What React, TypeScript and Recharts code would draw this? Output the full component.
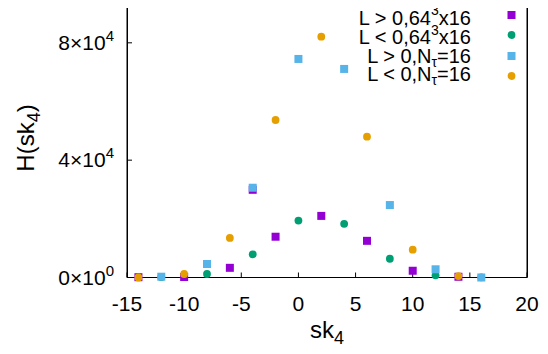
import React from "react";
import { ScatterChart, Scatter, XAxis, YAxis, ReferenceLine } from "recharts";

// values (x = sk4, y = H(sk4))
const purpleX = [-14, -10, -6, -4, -2, 2, 6, 10, 14];
const purpleY = [100, 170, 3300, 29900, 13900, 21000, 12500, 2300, 250];
const greenX = [-12, -8, -4, 0, 4, 8, 12, 16];
const greenY = [150, 1200, 7900, 19400, 18300, 6400, 750, 50];
const blueX = [-12, -8, -4, 0, 4, 8, 12, 16];
const blueY = [270, 4600, 30600, 74500, 71100, 24700, 2800, 0];
const orangeX = [-14, -10, -6, -2, 2, 6, 10, 14];
const orangeY = [0, 1200, 13500, 53700, 82100, 48000, 9500, 500];

const xTicks = [-15, -10, -5, 0, 5, 10, 15, 20];
const yTicks = [0, 40000, 80000];
const X_MIN = -15;
const X_MAX = 20;
const Y_MAX = 94600;

// plot frame in page pixels (matches the chart margins below)
const PLOT_LEFT = 127;
const PLOT_RIGHT = 527;
const PLOT_BOTTOM = 277.5;

const FONT = "'Liberation Sans', Arial, Helvetica, sans-serif";
const COLORS = { purple: "#9400d3", green: "#009e73", blue: "#56b4e9", orange: "#e69f00" };

const toPoints = (xs: number[], ys: number[]) => xs.map((x, i) => ({ x, y: ys[i] }));

const Square = (color: string) => (props: any) => (
  <rect x={props.cx - 4} y={props.cy - 4} width={8} height={8} fill={color} />
);
const Circle = (color: string) => (props: any) => (
  <circle cx={props.cx} cy={props.cy} r={3.9} fill={color} />
);

const XTick = (props: any) => (
  <text x={props.x} y={props.y} textAnchor="middle" fontFamily={FONT} fontSize={21} fill="#000">
    {props.payload.value}
  </text>
);

const YTick = (props: any) => {
  const v = props.payload.value;
  const e = v === 0 ? 0 : Math.floor(Math.log10(v));
  const m = Math.round(v / Math.pow(10, e));
  return (
    <text x={props.x} y={props.y + 7} textAnchor="end" fontFamily={FONT} fontSize={21} fill="#000">
      {m}×10
      <tspan dy={-9} fontSize={15}>{e}</tspan>
    </text>
  );
};

const Empty = () => <g />;

const legendRows = [
  { base: "L > 0,64", sup: "3", rest: "x16", sub: "", color: COLORS.purple, square: true, ty: 24.5, my: 15 },
  { base: "L < 0,64", sup: "3", rest: "x16", sub: "", color: COLORS.green, square: false, ty: 44, my: 35 },
  { base: "L > 0,N", sup: "", rest: "=16", sub: "τ", color: COLORS.blue, square: true, ty: 62.5, my: 56 },
  { base: "L < 0,N", sup: "", rest: "=16", sub: "τ", color: COLORS.orange, square: false, ty: 81, my: 76 },
];

const topTickX = (v: number) => PLOT_LEFT + ((v - X_MIN) / (X_MAX - X_MIN)) * (PLOT_RIGHT - PLOT_LEFT);

export default function App() {
  return (
    <div style={{ position: "relative", width: 548, height: 354, margin: -8 }}>
      <div style={{ position: "absolute", left: 0, top: 0 }}>
        <ScatterChart width={548} height={354} margin={{ top: 0, right: 21, bottom: 16.5, left: 0 }}>
          <XAxis
            xAxisId={0}
            type="number"
            dataKey="x"
            domain={[X_MIN, X_MAX]}
            ticks={xTicks}
            height={60}
            tickSize={-5}
            tickMargin={38}
            tick={<XTick />}
            axisLine={{ stroke: "#000" }}
            tickLine={{ stroke: "#000" }}
          />
          <YAxis
            yAxisId={0}
            type="number"
            dataKey="y"
            domain={[0, Y_MAX]}
            ticks={yTicks}
            width={127}
            tickSize={-5}
            tickMargin={18}
            tick={<YTick />}
            axisLine={{ stroke: "#000" }}
            tickLine={{ stroke: "#000" }}
          />
          <YAxis
            yAxisId="right"
            orientation="right"
            type="number"
            dataKey="y"
            domain={[0, Y_MAX]}
            ticks={yTicks}
            width={0}
            tickSize={-5}
            tick={<Empty />}
            axisLine={{ stroke: "#000" }}
            tickLine={{ stroke: "#000" }}
          />
          <ReferenceLine x={X_MAX} stroke="#000" strokeWidth={1} />
          <Scatter data={toPoints(purpleX, purpleY)} dataKey="y" shape={Square(COLORS.purple)} isAnimationActive={false} />
          <Scatter data={toPoints(greenX, greenY)} dataKey="y" shape={Circle(COLORS.green)} isAnimationActive={false} />
          <Scatter data={toPoints(blueX, blueY)} dataKey="y" shape={Square(COLORS.blue)} isAnimationActive={false} />
          <Scatter data={toPoints(orangeX, orangeY)} dataKey="y" shape={Circle(COLORS.orange)} isAnimationActive={false} />
        </ScatterChart>
      </div>
      <svg
        width={548}
        height={354}
        style={{ position: "absolute", left: 0, top: 0, pointerEvents: "none" }}
        fontFamily={FONT}
      >
        {/* frame sides and top ticks near the page edge */}
        <line x1={PLOT_LEFT + 0.5} x2={PLOT_LEFT + 0.5} y1={0} y2={PLOT_BOTTOM} stroke="#000" />
        <line x1={PLOT_RIGHT + 0.5} x2={PLOT_RIGHT + 0.5} y1={0} y2={PLOT_BOTTOM} stroke="#000" />
        {xTicks.map((v) => (
          <line key={v} x1={topTickX(v) + 0.5} x2={topTickX(v) + 0.5} y1={0} y2={4} stroke="#000" />
        ))}
        <text x={327} y={338} textAnchor="middle" fontSize={24} fill="#000">
          sk<tspan dy={6} fontSize={18}>4</tspan>
        </text>
        <text transform="translate(34,138) rotate(-90)" textAnchor="middle" fontSize={24} fill="#000">
          H(sk<tspan dy={6} fontSize={18}>4</tspan>
          <tspan dy={-6}>)</tspan>
        </text>
        {legendRows.map((r) => (
          <g key={r.base + r.color}>
            <text x={471} y={r.ty} textAnchor="end" fontSize={20} fill="#000">
              {r.base}
              {r.sup && <tspan dy={-9.5} fontSize={14}>{r.sup}</tspan>}
              {r.sub && <tspan dy={4} fontSize={14}>{r.sub}</tspan>}
              <tspan dy={r.sup ? 9.5 : -4}>{r.rest}</tspan>
            </text>
            {r.square ? (
              <rect x={511.5 - 4} y={r.my - 4} width={8} height={8} fill={r.color} />
            ) : (
              <circle cx={511.5} cy={r.my} r={3.9} fill={r.color} />
            )}
          </g>
        ))}
      </svg>
    </div>
  );
}
